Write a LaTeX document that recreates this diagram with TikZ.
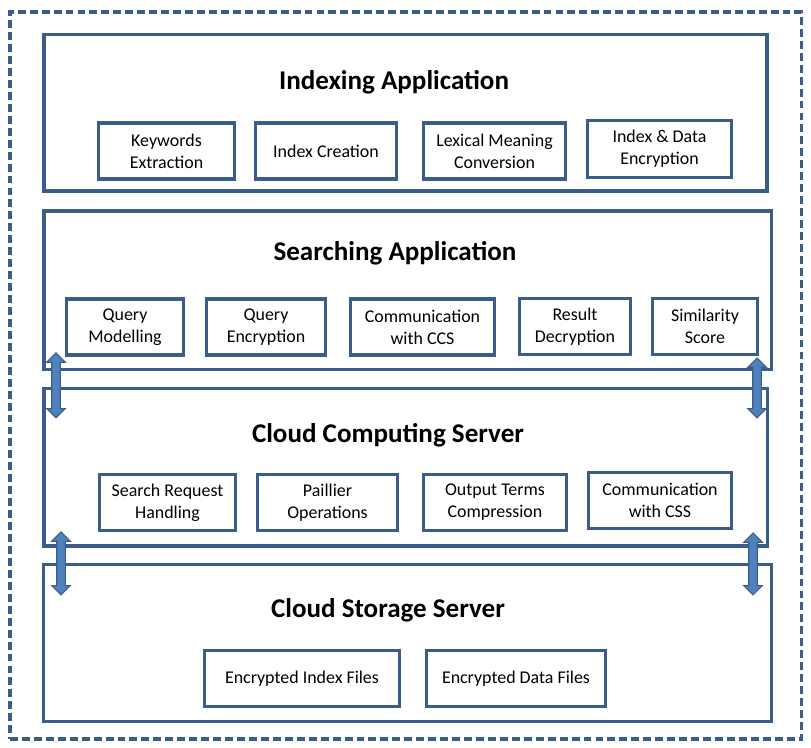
\documentclass[tikz,border=0pt]{standalone}
\usepackage{fontspec}
\setmainfont{Carlito}
\usetikzlibrary{fit, backgrounds, shapes.arrows}
\definecolor{boxborder}{HTML}{3A5D8C}
\definecolor{arrowfill}{HTML}{4F81BD}
\definecolor{arrowborder}{HTML}{385D8A}
\tikzset{
  region/.style={rectangle, draw=boxborder, line width=2pt, inner sep=0pt},
  regtitle/.style={font=\fontsize{15.4}{18}\selectfont\bfseries, text=black},
  part/.style={rectangle, draw=boxborder, fill=white, line width=2pt, align=center, minimum height=1.12cm, inner sep=1pt, font=\fontsize{10.2}{12.5}\selectfont},
  frame/.style={draw=boxborder, line width=1.9pt, dash pattern=on 4.5pt off 2.3pt},
  link/.style={double arrow, draw=arrowborder, fill=arrowfill, line width=0.6pt, shape border rotate=90, inner sep=0.075cm, minimum width=0.36cm, double arrow head extend=0.1cm, minimum height=1.3cm},
}
\begin{document}
\begin{tikzpicture}
\useasboundingbox (0,0) rectangle (16.22,14.96);

% ===== Outer frame =====
\node[frame, rectangle, inner sep=0pt, fit={(0.2,14.72) (16.03,0.18)}] (system) {};

% ===== Regions =====
\node[region, fit={(0.88,14.27) (15.34,11.14)}] (regIdx) {};
\node[region, fit={(0.88,10.74) (15.43,7.57)}] (regSearch) {};
\node[region, fit={(0.88,7.19) (15.35,4.04)}] (regCCS) {};
\node[region, fit={(0.87,3.67) (15.43,0.53)}] (regCSS) {};
\node[regtitle] (tIdx) at (7.88,13.32) {Indexing Application};
\node[regtitle] (tSearch) at (7.9,9.9) {Searching Application};
\node[regtitle] (tCCS) at (7.76,6.26) {Cloud Computing Server};
\node[regtitle] (tCSS) at (7.76,2.76) {Cloud Storage Server};

% ===== Indexing =====
\node[part, minimum width=2.72cm] (keywords) at (3.33,11.94) {Keywords\\Extraction};
\node[part, minimum width=2.82cm] (idxcreate) at (6.52,11.94) {Index Creation};
\node[part, minimum width=2.84cm] (lexical) at (9.89,11.94) {Lexical Meaning\\Conversion};
\node[part, minimum width=2.88cm, minimum height=1.14cm] (idxenc) at (13.19,11.98) {Index \& Data\\Encryption};

% ===== Searching =====
\node[part, minimum width=2.34cm] (qmodel) at (2.5,8.42) {Query\\Modelling};
\node[part, minimum width=2.38cm] (qenc) at (5.32,8.42) {Query\\Encryption};
\node[part, minimum width=2.88cm] (commccs) at (8.45,8.42) {Communication\\with CCS};
\node[part, minimum width=2.22cm] (resdec) at (11.5,8.43) {Result\\Decryption};
\node[part, minimum width=2.1cm] (simscore) at (14.1,8.43) {Similarity\\Score};

% ===== Cloud computing =====
\node[part, minimum width=2.72cm] (searchreq) at (3.35,4.91) {Search Request\\Handling};
\node[part, minimum width=2.8cm] (paillier) at (6.55,4.91) {Paillier\\Operations};
\node[part, minimum width=2.86cm] (outterms) at (9.9,4.91) {Output Terms\\Compression};
\node[part, minimum width=2.86cm] (commcss) at (13.2,4.95) {Communication\\with CSS};

% ===== Cloud storage =====
\node[part, minimum width=3.9cm] (encidx) at (6.04,1.39) {Encrypted Index Files};
\node[part, minimum width=3.58cm] (encdata) at (10.32,1.39) {Encrypted Data Files};

% ===== Links =====
\node[link] (linkSA) at (1.12,7.25) {};
\node[link, minimum height=1.2cm] (linkSB) at (15.14,7.2) {};
\node[link, minimum height=1.26cm] (linkCA) at (1.22,3.69) {};
\node[link, minimum height=1.24cm] (linkCB) at (15.06,3.68) {};

\end{tikzpicture}
\end{document}
